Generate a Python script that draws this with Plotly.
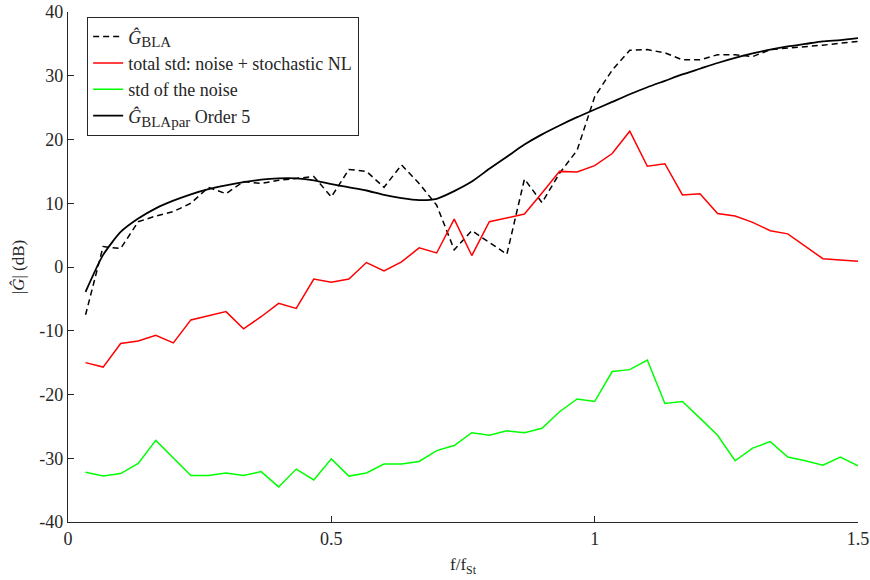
import plotly.graph_objects as go

freq = [k / 30 for k in range(1, 46)]

g_bla = [-7.5, 3.2, 2.9, 7.1, 8.0, 8.7, 10.0, 12.5, 11.5, 13.4,
         13.1, 13.6, 13.9, 14.2, 11.0, 15.3, 15.0, 12.5, 16.0, 13.1,
         9.7, 2.7, 5.7, 3.9, 2.0, 13.8, 10.1, 14.7, 18.3, 26.7,
         30.9, 34.0, 34.1, 33.6, 32.5, 32.5, 33.3, 33.3, 33.0, 34.1,
         34.3, 34.6, 34.8, 35.1, 35.4]

total_std = [-15.0, -15.7, -12.0, -11.6, -10.7, -11.9, -8.3, -7.7, -7.0, -9.7,
             -7.8, -5.7, -6.5, -1.9, -2.4, -1.9, 0.7, -0.6, 0.8, 3.0,
             2.2, 7.5, 1.8, 7.1, 7.7, 8.3, 11.6, 15.0, 14.9, 15.9,
             17.8, 21.3, 15.8, 16.2, 11.3, 11.5, 8.4, 8.0, 7.0, 5.7,
             5.2, 3.3, 1.3, 1.1, 0.9]

noise_std = [-32.2, -32.8, -32.4, -30.8, -27.2, -29.9, -32.7, -32.7, -32.3, -32.7,
             -32.1, -34.5, -31.7, -33.4, -30.1, -32.8, -32.3, -30.9, -30.9, -30.5,
             -28.8, -28.0, -26.0, -26.4, -25.7, -26.0, -25.3, -22.7, -20.7, -21.1,
             -16.4, -16.1, -14.6, -21.4, -21.1, -23.7, -26.4, -30.4, -28.4, -27.4,
             -29.8, -30.4, -31.1, -29.8, -31.2]

g_par = [-3.9, 1.9, 5.5, 7.6, 9.2, 10.4, 11.4, 12.2, 12.8, 13.3,
         13.7, 13.9, 13.9, 13.6, 13.0, 12.5, 12.0, 11.3, 10.8, 10.5,
         10.7, 11.9, 13.4, 15.4, 17.3, 19.2, 20.8, 22.2, 23.5, 24.7,
         25.9, 27.1, 28.2, 29.2, 30.2, 31.1, 32.0, 32.8, 33.5, 34.1,
         34.6, 35.0, 35.4, 35.6, 35.9]

y_ticks = list(range(-40, 41, 10))
y_ticklabels = [str(v) for v in y_ticks]
x_ticks = [0, 0.5, 1, 1.5]
x_ticklabels = ["0", "0.5", "1", "1.5"]

SUB = "<sub><span style='font-size:15px'>{}</span></sub>"
names = ["<i>Ĝ</i>" + SUB.format("BLA"),
         "total std: noise + stochastic NL",
         "std of the noise",
         "<i>Ĝ</i>" + SUB.format("BLApar") + " Order 5"]

FONT = "Liberation Serif"
INK = "#262626"

fig = go.Figure()
fig.add_trace(go.Scatter(x=freq, y=g_bla, mode="lines", name=names[0],
                         line=dict(color="black", width=1.5, dash="6px,4px")))
fig.add_trace(go.Scatter(x=freq, y=total_std, mode="lines", name=names[1],
                         line=dict(color="#ff0000", width=1.5)))
fig.add_trace(go.Scatter(x=freq, y=noise_std, mode="lines", name=names[2],
                         line=dict(color="#00ff00", width=1.5)))
fig.add_trace(go.Scatter(x=freq, y=g_par, mode="lines", name=names[3],
                         line=dict(color="black", width=1.8, shape="spline", smoothing=0.6)))

fig.update_layout(
    width=870, height=580,
    margin=dict(l=68, r=12, t=12, b=58),
    paper_bgcolor="white", plot_bgcolor="white",
    font=dict(family=FONT, size=18, color=INK),
    showlegend=True,
    legend=dict(x=0.024, y=0.99, xanchor="left", yanchor="top",
                bgcolor="white", bordercolor=INK, borderwidth=1.2,
                font=dict(family=FONT, size=18, color=INK),
                tracegroupgap=0, itemwidth=30),
    xaxis=dict(range=[0, 1.5], tickvals=x_ticks, ticktext=x_ticklabels,
               showline=True, linecolor=INK, linewidth=1.2, mirror=False, automargin=False,
               ticks="inside", ticklen=6, tickcolor=INK, showgrid=False, zeroline=False,
               ticklabeloverflow="allow",
               tickfont=dict(family=FONT, size=18),
               title=dict(text="f/f<sub>St</sub>", standoff=10,
                          font=dict(family=FONT, size=17))),
    yaxis=dict(range=[-40, 40], tickvals=y_ticks, ticktext=y_ticklabels,
               showline=True, linecolor=INK, linewidth=1.2, mirror=False, automargin=False,
               ticks="inside", ticklen=6, tickcolor=INK, showgrid=False, zeroline=False,
               ticklabeloverflow="allow",
               tickfont=dict(family=FONT, size=18),
               title=dict(text="|<i>Ĝ</i>| (dB)", standoff=10,
                          font=dict(family=FONT, size=17))),
)

fig.write_html("out.html")
